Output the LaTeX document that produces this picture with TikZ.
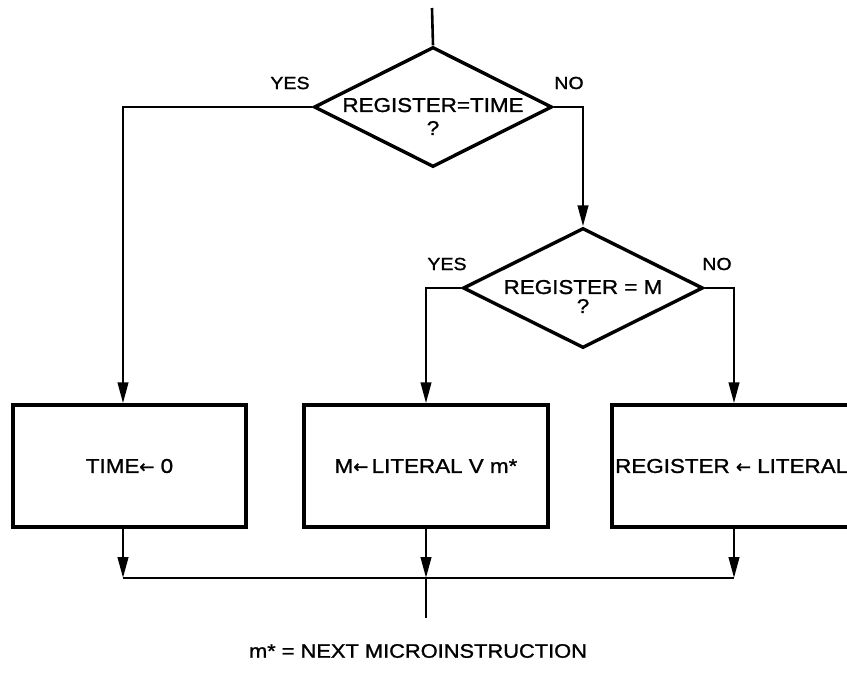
\documentclass[tikz,border=0pt]{standalone}
\usepackage{fontspec}
\setmainfont{Liberation Sans}
\newfontfamily\figfont[FakeStretch=1.12,FakeBold=1.2]{Liberation Sans}
\newfontfamily\arrfont[FakeBold=1.2]{DejaVu Sans}
\newcommand{\larr}{{\arrfont\fontsize{18}{18}\selectfont ←}}
\usetikzlibrary{shapes.geometric,arrows.meta}
\begin{document}
\begin{tikzpicture}[x=1pt,y=-1pt,
  conn/.style={draw,line width=2.6pt},
  arr/.style={conn,-{Triangle[length=21pt,width=10.5pt]}},
  dia/.style={diamond,draw,line width=3.4pt,minimum width=238pt,minimum height=120pt,inner sep=0pt},
  boxnode/.style={rectangle,draw,line width=3.4pt,inner sep=0pt,minimum height=122pt,font=\figfont\fontsize{20}{22}\selectfont},
  dtext/.style={align=center,inner sep=0pt,font=\figfont\fontsize{20}{23}\selectfont},
  lbl/.style={inner sep=0pt,font=\figfont\fontsize{17.5}{20}\selectfont},
  captext/.style={inner sep=0pt,font=\figfont\fontsize{19.5}{22}\selectfont}]
\useasboundingbox (0,0) rectangle (847,673);
\fill[white] (0,0) rectangle (847,673);
\clip (0,0) rectangle (847,673);
% decisions
\node[dia] (d1) at (433,107) {};
\node[dtext] (t1) at (433,116.5) {REGISTER=TIME\\?};
\node[dia,minimum width=240pt] (d2) at (583,288) {};
\node[dtext,font=\figfont\fontsize{20}{19}\selectfont] (t2) at (583,296.5) {REGISTER = M\\?};
% boxes
\node[boxnode,minimum width=233pt] (b1) at (129.5,466) {TIME\larr\ 0};
\node[boxnode,minimum width=244pt] (b2) at (426,466) {M\larr\,LITERAL V m*};
\node[boxnode,minimum width=244pt] (b3) at (734,466) {};
\node[inner sep=0pt,anchor=west,font=\figfont\fontsize{20}{22}\selectfont] (t3) at (615,466) {REGISTER \larr\ LITERAL};
% labels
\node[lbl] (y1) at (290,83) {YES};
\node[lbl] (n1) at (569,83) {NO};
\node[lbl] (y2) at (447,264) {YES};
\node[lbl] (n2) at (717,264) {NO};
\node[captext] (note) at (418,651) {m* = NEXT MICROINSTRUCTION};
% coordinates
\coordinate (top) at (432,8);
\coordinate (c1) at (123,0);
\coordinate (j) at (0,578);
\coordinate (out) at (0,618);
% connectors
\draw[conn] (top) -- (d1.north);
\draw[arr] (d1.west) -| (c1 |- b1.north);
\draw[arr] (d1.east) -| (d2.north);
\draw[arr] (d2.west) -| (b2.north);
\draw[arr] (d2.east) -| (b3.north);
\draw[arr] (c1 |- b1.south) -- (c1 |- j);
\draw[arr] (b2.south) -- (b2.south |- j);
\draw[arr] (b3.south) -- (b3.south |- j);
\draw[conn] (c1 |- j) -- (b3.south |- j);
\draw[conn] (b2.south |- j) -- (b2.south |- out);
\end{tikzpicture}
\end{document}
